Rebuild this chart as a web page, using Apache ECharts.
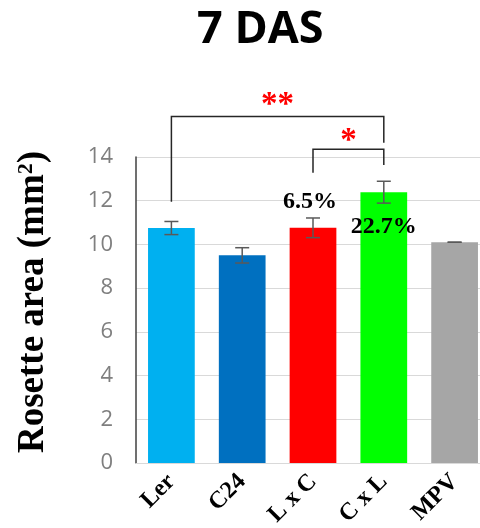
<!DOCTYPE html>
<html>
<head>
<meta charset="utf-8">
<script src="https://cdn.jsdelivr.net/npm/echarts@6/dist/echarts.min.js"></script>
<style>
  html, body { margin: 0; padding: 0; background: #ffffff; }
  #chart { width: 480px; height: 528px; }
</style>
</head>
<body>
<div id="chart"></div>
<script>
// Rosette area at 7 days after sowing
const categories = ['Ler', 'C24', 'L x C', 'C x L', 'MPV'];
const areaMeans = [10.75, 9.5, 10.76, 12.39, 10.1];
const areaErrors = [0.3, 0.35, 0.45, 0.5, 0];
const barColors = ['#00b0f0', '#0070c0', '#ff0000', '#00ff00', '#a6a6a6'];
const yTicks = [0, 2, 4, 6, 8, 10, 12, 14];
// hybrids compared with the mid-parent value (MPV)
const hybridIndices = [2, 3];
// significance brackets: [from, to, top, left end, right end, mark height] in axis units
const brackets = [
  [0, 3, 15.85, 11.95, 14.65, 16.62],
  [2, 3, 14.36, 13.28, 13.63, 14.98]
];
const bracketMarks = ['**', '*'];

const mpvIndex = categories.indexOf('MPV');
const mpv = areaMeans[mpvIndex];

const serif = '"Liberation Serif", "Times New Roman", serif';

const barData = areaMeans.map(function (v, i) {
  const item = { value: v, itemStyle: { color: barColors[i] } };
  if (hybridIndices.indexOf(i) >= 0) {
    const pct = ((v / mpv - 1) * 100).toFixed(1) + '%';
    item.label = i === 2
      ? { show: true, formatter: pct, position: 'top', distance: 14, offset: [-3, 0] }
      : { show: true, formatter: pct, position: 'insideTop', distance: 23 };
  }
  return item;
});

const errorData = areaMeans.map(function (v, i) { return [i, v - areaErrors[i], v + areaErrors[i]]; });

const chart = echarts.init(document.getElementById('chart'), null, { renderer: 'canvas' });

chart.setOption({
  animation: false,
  backgroundColor: '#ffffff',
  title: {
    text: '7 DAS',
    left: 192,
    top: 3,
    textStyle: { fontFamily: '"Open Sans", sans-serif', fontWeight: 'bold', fontSize: 45, color: '#000000' }
  },
  grid: { left: 136, width: 354, top: 157, height: 306, containLabel: false, outerBoundsMode: 'none' },
  xAxis: {
    type: 'category',
    data: categories,
    axisLine: { show: true, lineStyle: { color: '#d9d9d9', width: 1 } },
    axisTick: { show: false },
    axisLabel: {
      rotate: 45,
      interval: 0,
      margin: 15,
      fontFamily: serif,
      fontWeight: 'bold',
      fontSize: 24,
      color: '#000000'
    }
  },
  yAxis: {
    type: 'value',
    min: 0,
    max: 14,
    interval: 2,
    name: '{a|Rosette area (mm}{s|2}{a|)}',
    nameLocation: 'middle',
    nameGap: 84,
    nameRotate: 90,
    nameTextStyle: {
      padding: [0, 0, 0, 16],
      rich: {
        a: { fontFamily: serif, fontWeight: 'bold', fontSize: 37, color: '#000000' },
        s: { fontFamily: serif, fontWeight: 'bold', fontSize: 22, color: '#000000', verticalAlign: 'top', lineHeight: 22 }
      }
    },
    axisLine: { show: true, lineStyle: { color: '#404040', width: 1.5 } },
    axisTick: { show: false },
    axisLabel: {
      margin: 23,
      fontFamily: '"Open Sans", sans-serif',
      fontSize: 22,
      color: '#7f7f7f',
      formatter: function (v) { return yTicks.indexOf(v) >= 0 ? String(v) : ''; }
    },
    splitLine: { show: true, lineStyle: { color: '#d9d9d9', width: 1 } }
  },
  series: [
    {
      type: 'bar',
      data: barData,
      barWidth: '66%',
      label: {
        fontFamily: serif,
        fontWeight: 'bold',
        fontSize: 24,
        color: '#000000'
      },
      z: 2
    },
    {
      // error bars (mean ± SE)
      type: 'custom',
      data: errorData,
      z: 3,
      renderItem: function (params, api) {
        const i = api.value(0);
        const lo = api.coord([i, api.value(1)]);
        const hi = api.coord([i, api.value(2)]);
        const cap = 7;
        const style = { stroke: '#595959', lineWidth: 1.5 };
        return {
          type: 'group',
          children: [
            { type: 'line', shape: { x1: hi[0], y1: hi[1], x2: lo[0], y2: lo[1] }, style: style },
            { type: 'line', shape: { x1: hi[0] - cap, y1: hi[1], x2: hi[0] + cap, y2: hi[1] }, style: style },
            { type: 'line', shape: { x1: lo[0] - cap, y1: lo[1], x2: lo[0] + cap, y2: lo[1] }, style: style }
          ]
        };
      }
    },
    {
      // significance brackets with asterisks
      type: 'custom',
      data: brackets,
      z: 4,
      clip: false,
      renderItem: function (params, api) {
        const a = api.value(0), b = api.value(1);
        const top = api.value(2);
        const pL = api.coord([a, api.value(3)]);
        const pR = api.coord([b, api.value(4)]);
        const tL = api.coord([a, top]);
        const tR = api.coord([b, top]);
        const mk = api.coord([a, api.value(5)]);
        return {
          type: 'group',
          children: [
            {
              type: 'polyline',
              shape: { points: [pL, tL, tR, pR] },
              style: { stroke: '#262626', lineWidth: 1.5, fill: null }
            },
            {
              type: 'text',
              x: (tL[0] + tR[0]) / 2,
              y: mk[1] + 6,
              style: {
                text: bracketMarks[params.dataIndex],
                fill: '#ff0000',
                font: 'bold 33px ' + serif,
                align: 'center',
                verticalAlign: 'middle'
              }
            }
          ]
        };
      }
    }
  ]
});
</script>
</body>
</html>
